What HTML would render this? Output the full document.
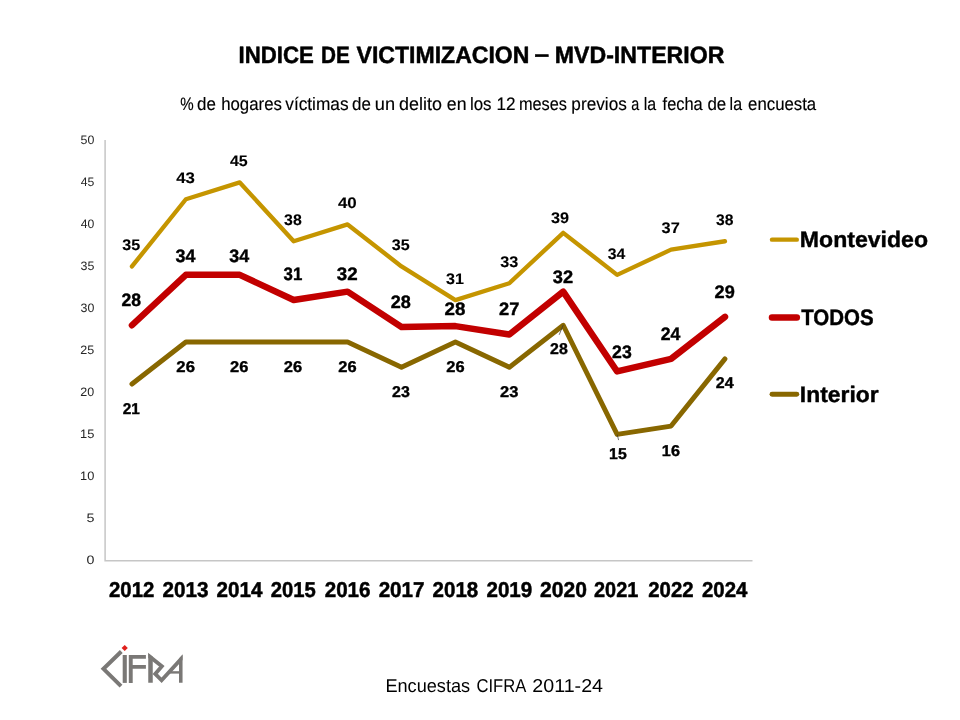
<!DOCTYPE html>
<html lang="es"><head><meta charset="utf-8"><title>INDICE DE VICTIMIZACION – MVD-INTERIOR</title>
<style>
html,body{margin:0;padding:0;background:#fff;}
body{width:960px;height:720px;overflow:hidden;}
svg{display:block;}
text{font-family:"Liberation Sans",sans-serif;text-rendering:geometricPrecision;}
.b{font-weight:bold;}
</style></head><body>
<svg width="960" height="720" viewBox="0 0 960 720">
<rect width="960" height="720" fill="#fff"/>
<path d="M105.1 140 V560.7 H752.5" fill="none" stroke="#C6C6C6" stroke-width="1.5"/>
<polyline points="131.95,384.05 185.87,342.05 239.77,342.05 293.69,342.05 347.59,342.05 401.50,367.25 455.41,342.05 509.32,367.25 563.23,325.25 617.14,434.45 671.05,426.05 724.96,358.85" fill="none" stroke="#886700" stroke-width="4.9" stroke-linecap="round" stroke-linejoin="round"/>
<polyline points="131.95,266.45 185.87,199.25 239.77,182.45 293.69,241.25 347.59,224.45 401.50,266.45 455.41,300.05 509.32,283.25 563.23,232.85 617.14,274.85 671.05,249.65 724.96,241.25" fill="none" stroke="#C59500" stroke-width="4.35" stroke-linecap="round" stroke-linejoin="round"/>
<polyline points="131.95,325.25 185.87,274.85 239.77,274.85 293.69,300.05 347.59,291.65 401.50,326.93 455.41,326.09 509.32,334.49 563.23,291.65 617.14,371.45 671.05,358.85 724.96,316.85" fill="none" stroke="#C20000" stroke-width="6.5" stroke-linecap="round" stroke-linejoin="round"/>
<path d="M563.3 324.8 L559.2 334.8 M617.2 434.6 L618.6 440.1" stroke="#333" stroke-width="0.7" fill="none"/>
<path d="M772 239.65 H796.8" stroke="#C59500" stroke-width="4.4" stroke-linecap="round"/>
<path d="M772 317.4 H796.8" stroke="#C20000" stroke-width="6.5" stroke-linecap="round"/>
<path d="M772 394.3 H796.8" stroke="#886700" stroke-width="4.9" stroke-linecap="round"/>
<text x="238.50" y="63.10" font-size="23.80" textLength="75.22" lengthAdjust="spacingAndGlyphs" class="b" stroke="#000" stroke-width="0.50" stroke-linejoin="round">INDICE</text>
<text x="320.95" y="63.10" font-size="23.80" textLength="28.81" lengthAdjust="spacingAndGlyphs" class="b" stroke="#000" stroke-width="0.50" stroke-linejoin="round">DE</text>
<text x="356.58" y="63.10" font-size="23.80" textLength="172.82" lengthAdjust="spacingAndGlyphs" class="b" stroke="#000" stroke-width="0.50" stroke-linejoin="round">VICTIMIZACION</text>
<text x="534.46" y="61.90" font-size="23.80" textLength="14.61" lengthAdjust="spacingAndGlyphs" class="b" stroke="#000" stroke-width="0.50" stroke-linejoin="round">–</text>
<text x="554.79" y="63.10" font-size="23.80" textLength="169.60" lengthAdjust="spacingAndGlyphs" class="b" stroke="#000" stroke-width="0.50" stroke-linejoin="round">MVD-INTERIOR</text>
<text x="180.15" y="109.80" font-size="18.00" textLength="13.43" lengthAdjust="spacingAndGlyphs" stroke="#000" stroke-width="0.15" stroke-linejoin="round">%</text>
<text x="197.11" y="109.80" font-size="18.00" textLength="18.83" lengthAdjust="spacingAndGlyphs" stroke="#000" stroke-width="0.15" stroke-linejoin="round">de</text>
<text x="221.15" y="109.80" font-size="18.00" textLength="60.75" lengthAdjust="spacingAndGlyphs" stroke="#000" stroke-width="0.15" stroke-linejoin="round">hogares</text>
<text x="285.24" y="109.80" font-size="18.00" textLength="63.38" lengthAdjust="spacingAndGlyphs" stroke="#000" stroke-width="0.15" stroke-linejoin="round">víctimas</text>
<text x="352.11" y="109.80" font-size="18.00" textLength="18.83" lengthAdjust="spacingAndGlyphs" stroke="#000" stroke-width="0.15" stroke-linejoin="round">de</text>
<text x="374.89" y="109.80" font-size="18.00" textLength="20.26" lengthAdjust="spacingAndGlyphs" stroke="#000" stroke-width="0.15" stroke-linejoin="round">un</text>
<text x="399.06" y="109.80" font-size="18.00" textLength="42.84" lengthAdjust="spacingAndGlyphs" stroke="#000" stroke-width="0.15" stroke-linejoin="round">delito</text>
<text x="446.82" y="109.80" font-size="18.00" textLength="19.69" lengthAdjust="spacingAndGlyphs" stroke="#000" stroke-width="0.15" stroke-linejoin="round">en</text>
<text x="469.93" y="109.80" font-size="18.00" textLength="21.60" lengthAdjust="spacingAndGlyphs" stroke="#000" stroke-width="0.15" stroke-linejoin="round">los</text>
<text x="496.54" y="109.80" font-size="18.00" textLength="19.03" lengthAdjust="spacingAndGlyphs" stroke="#000" stroke-width="0.15" stroke-linejoin="round">12</text>
<text x="518.97" y="109.80" font-size="18.00" textLength="48.03" lengthAdjust="spacingAndGlyphs" stroke="#000" stroke-width="0.15" stroke-linejoin="round">meses</text>
<text x="571.36" y="109.80" font-size="18.00" textLength="55.44" lengthAdjust="spacingAndGlyphs" stroke="#000" stroke-width="0.15" stroke-linejoin="round">previos</text>
<text x="631.37" y="109.80" font-size="18.00" textLength="7.98" lengthAdjust="spacingAndGlyphs" stroke="#000" stroke-width="0.15" stroke-linejoin="round">a</text>
<text x="643.75" y="109.80" font-size="18.00" textLength="12.44" lengthAdjust="spacingAndGlyphs" stroke="#000" stroke-width="0.15" stroke-linejoin="round">la</text>
<text x="662.58" y="109.80" font-size="18.00" textLength="40.12" lengthAdjust="spacingAndGlyphs" stroke="#000" stroke-width="0.15" stroke-linejoin="round">fecha</text>
<text x="707.46" y="109.80" font-size="18.00" textLength="18.83" lengthAdjust="spacingAndGlyphs" stroke="#000" stroke-width="0.15" stroke-linejoin="round">de</text>
<text x="729.60" y="109.80" font-size="18.00" textLength="12.44" lengthAdjust="spacingAndGlyphs" stroke="#000" stroke-width="0.15" stroke-linejoin="round">la</text>
<text x="748.11" y="109.80" font-size="18.00" textLength="68.08" lengthAdjust="spacingAndGlyphs" stroke="#000" stroke-width="0.15" stroke-linejoin="round">encuesta</text>
<text x="86.43" y="564.25" font-size="12.20" textLength="7.92" lengthAdjust="spacingAndGlyphs" fill="#262626">0</text>
<text x="86.43" y="522.25" font-size="12.20" textLength="7.96" lengthAdjust="spacingAndGlyphs" fill="#262626">5</text>
<text x="80.04" y="480.25" font-size="12.20" textLength="14.27" lengthAdjust="spacingAndGlyphs" fill="#262626">10</text>
<text x="80.04" y="438.25" font-size="12.20" textLength="14.31" lengthAdjust="spacingAndGlyphs" fill="#262626">15</text>
<text x="80.37" y="396.25" font-size="12.20" textLength="13.92" lengthAdjust="spacingAndGlyphs" fill="#262626">20</text>
<text x="80.37" y="354.25" font-size="12.20" textLength="13.96" lengthAdjust="spacingAndGlyphs" fill="#262626">25</text>
<text x="80.54" y="312.25" font-size="12.20" textLength="13.76" lengthAdjust="spacingAndGlyphs" fill="#262626">30</text>
<text x="80.54" y="270.25" font-size="12.20" textLength="13.79" lengthAdjust="spacingAndGlyphs" fill="#262626">35</text>
<text x="80.73" y="228.25" font-size="12.20" textLength="13.56" lengthAdjust="spacingAndGlyphs" fill="#262626">40</text>
<text x="80.73" y="186.25" font-size="12.20" textLength="13.59" lengthAdjust="spacingAndGlyphs" fill="#262626">45</text>
<text x="80.50" y="144.25" font-size="12.20" textLength="13.79" lengthAdjust="spacingAndGlyphs" fill="#262626">50</text>
<text x="109.04" y="597.40" font-size="21.50" textLength="45.32" lengthAdjust="spacingAndGlyphs" class="b" stroke="#000" stroke-width="0.50" stroke-linejoin="round">2012</text>
<text x="162.53" y="597.40" font-size="21.50" textLength="45.99" lengthAdjust="spacingAndGlyphs" class="b" stroke="#000" stroke-width="0.50" stroke-linejoin="round">2013</text>
<text x="216.53" y="597.40" font-size="21.50" textLength="45.87" lengthAdjust="spacingAndGlyphs" class="b" stroke="#000" stroke-width="0.50" stroke-linejoin="round">2014</text>
<text x="270.79" y="597.40" font-size="21.50" textLength="45.06" lengthAdjust="spacingAndGlyphs" class="b" stroke="#000" stroke-width="0.50" stroke-linejoin="round">2015</text>
<text x="324.72" y="597.40" font-size="21.50" textLength="45.79" lengthAdjust="spacingAndGlyphs" class="b" stroke="#000" stroke-width="0.50" stroke-linejoin="round">2016</text>
<text x="378.63" y="597.40" font-size="21.50" textLength="45.95" lengthAdjust="spacingAndGlyphs" class="b" stroke="#000" stroke-width="0.50" stroke-linejoin="round">2017</text>
<text x="432.55" y="597.40" font-size="21.50" textLength="45.68" lengthAdjust="spacingAndGlyphs" class="b" stroke="#000" stroke-width="0.50" stroke-linejoin="round">2018</text>
<text x="486.45" y="597.40" font-size="21.50" textLength="45.79" lengthAdjust="spacingAndGlyphs" class="b" stroke="#000" stroke-width="0.50" stroke-linejoin="round">2019</text>
<text x="540.01" y="597.40" font-size="21.50" textLength="46.88" lengthAdjust="spacingAndGlyphs" class="b" stroke="#000" stroke-width="0.50" stroke-linejoin="round">2020</text>
<text x="594.05" y="597.40" font-size="21.50" textLength="44.29" lengthAdjust="spacingAndGlyphs" class="b" stroke="#000" stroke-width="0.50" stroke-linejoin="round">2021</text>
<text x="648.29" y="597.40" font-size="21.50" textLength="45.32" lengthAdjust="spacingAndGlyphs" class="b" stroke="#000" stroke-width="0.50" stroke-linejoin="round">2022</text>
<text x="702.04" y="597.40" font-size="21.50" textLength="45.36" lengthAdjust="spacingAndGlyphs" class="b" stroke="#000" stroke-width="0.50" stroke-linejoin="round">2024</text>
<text x="122.34" y="250.00" font-size="15.30" textLength="17.94" lengthAdjust="spacingAndGlyphs" class="b" stroke="#000" stroke-width="0.10" stroke-linejoin="round">35</text>
<text x="176.20" y="183.00" font-size="15.30" textLength="18.73" lengthAdjust="spacingAndGlyphs" class="b" stroke="#000" stroke-width="0.10" stroke-linejoin="round">43</text>
<text x="229.96" y="166.00" font-size="15.30" textLength="17.82" lengthAdjust="spacingAndGlyphs" class="b" stroke="#000" stroke-width="0.10" stroke-linejoin="round">45</text>
<text x="284.09" y="225.00" font-size="15.30" textLength="17.72" lengthAdjust="spacingAndGlyphs" class="b" stroke="#000" stroke-width="0.10" stroke-linejoin="round">38</text>
<text x="337.95" y="208.00" font-size="15.30" textLength="18.82" lengthAdjust="spacingAndGlyphs" class="b" stroke="#000" stroke-width="0.10" stroke-linejoin="round">40</text>
<text x="391.84" y="250.00" font-size="15.30" textLength="17.94" lengthAdjust="spacingAndGlyphs" class="b" stroke="#000" stroke-width="0.10" stroke-linejoin="round">35</text>
<text x="446.09" y="283.75" font-size="15.30" textLength="17.94" lengthAdjust="spacingAndGlyphs" class="b" stroke="#000" stroke-width="0.10" stroke-linejoin="round">31</text>
<text x="500.33" y="266.75" font-size="15.30" textLength="18.07" lengthAdjust="spacingAndGlyphs" class="b" stroke="#000" stroke-width="0.10" stroke-linejoin="round">33</text>
<text x="551.08" y="222.50" font-size="15.30" textLength="18.07" lengthAdjust="spacingAndGlyphs" class="b" stroke="#000" stroke-width="0.10" stroke-linejoin="round">39</text>
<text x="607.84" y="258.50" font-size="15.30" textLength="17.57" lengthAdjust="spacingAndGlyphs" class="b" stroke="#000" stroke-width="0.10" stroke-linejoin="round">34</text>
<text x="661.58" y="233.25" font-size="15.30" textLength="18.20" lengthAdjust="spacingAndGlyphs" class="b" stroke="#000" stroke-width="0.10" stroke-linejoin="round">37</text>
<text x="716.10" y="224.50" font-size="15.30" textLength="17.46" lengthAdjust="spacingAndGlyphs" class="b" stroke="#000" stroke-width="0.10" stroke-linejoin="round">38</text>
<text x="121.59" y="305.75" font-size="18.00" textLength="19.53" lengthAdjust="spacingAndGlyphs" class="b" stroke="#000" stroke-width="0.40" stroke-linejoin="round">28</text>
<text x="175.55" y="261.75" font-size="18.00" textLength="19.88" lengthAdjust="spacingAndGlyphs" class="b" stroke="#000" stroke-width="0.40" stroke-linejoin="round">34</text>
<text x="229.30" y="261.75" font-size="18.00" textLength="19.88" lengthAdjust="spacingAndGlyphs" class="b" stroke="#000" stroke-width="0.40" stroke-linejoin="round">34</text>
<text x="283.57" y="280.00" font-size="18.00" textLength="18.73" lengthAdjust="spacingAndGlyphs" class="b" stroke="#000" stroke-width="0.40" stroke-linejoin="round">31</text>
<text x="336.78" y="279.50" font-size="18.00" textLength="20.81" lengthAdjust="spacingAndGlyphs" class="b" stroke="#000" stroke-width="0.40" stroke-linejoin="round">32</text>
<text x="390.82" y="307.50" font-size="18.00" textLength="20.06" lengthAdjust="spacingAndGlyphs" class="b" stroke="#000" stroke-width="0.40" stroke-linejoin="round">28</text>
<text x="444.54" y="314.50" font-size="18.00" textLength="20.86" lengthAdjust="spacingAndGlyphs" class="b" stroke="#000" stroke-width="0.40" stroke-linejoin="round">28</text>
<text x="499.06" y="314.50" font-size="18.00" textLength="20.31" lengthAdjust="spacingAndGlyphs" class="b" stroke="#000" stroke-width="0.40" stroke-linejoin="round">27</text>
<text x="552.79" y="283.25" font-size="18.00" textLength="20.28" lengthAdjust="spacingAndGlyphs" class="b" stroke="#000" stroke-width="0.40" stroke-linejoin="round">32</text>
<text x="612.08" y="358.00" font-size="18.00" textLength="19.63" lengthAdjust="spacingAndGlyphs" class="b" stroke="#000" stroke-width="0.40" stroke-linejoin="round">23</text>
<text x="660.83" y="339.50" font-size="18.00" textLength="19.60" lengthAdjust="spacingAndGlyphs" class="b" stroke="#000" stroke-width="0.40" stroke-linejoin="round">24</text>
<text x="714.57" y="297.50" font-size="18.00" textLength="20.16" lengthAdjust="spacingAndGlyphs" class="b" stroke="#000" stroke-width="0.40" stroke-linejoin="round">29</text>
<text x="122.66" y="413.55" font-size="15.60" textLength="17.10" lengthAdjust="spacingAndGlyphs" class="b" stroke="#000" stroke-width="0.40" stroke-linejoin="round">21</text>
<text x="176.37" y="371.80" font-size="15.60" textLength="18.56" lengthAdjust="spacingAndGlyphs" class="b" stroke="#000" stroke-width="0.40" stroke-linejoin="round">26</text>
<text x="230.12" y="371.80" font-size="15.60" textLength="18.29" lengthAdjust="spacingAndGlyphs" class="b" stroke="#000" stroke-width="0.40" stroke-linejoin="round">26</text>
<text x="283.87" y="371.80" font-size="15.60" textLength="18.29" lengthAdjust="spacingAndGlyphs" class="b" stroke="#000" stroke-width="0.40" stroke-linejoin="round">26</text>
<text x="338.37" y="371.80" font-size="15.60" textLength="18.29" lengthAdjust="spacingAndGlyphs" class="b" stroke="#000" stroke-width="0.40" stroke-linejoin="round">26</text>
<text x="392.14" y="396.55" font-size="15.60" textLength="17.75" lengthAdjust="spacingAndGlyphs" class="b" stroke="#000" stroke-width="0.40" stroke-linejoin="round">23</text>
<text x="446.37" y="371.80" font-size="15.60" textLength="18.29" lengthAdjust="spacingAndGlyphs" class="b" stroke="#000" stroke-width="0.40" stroke-linejoin="round">26</text>
<text x="500.12" y="396.55" font-size="15.60" textLength="18.29" lengthAdjust="spacingAndGlyphs" class="b" stroke="#000" stroke-width="0.40" stroke-linejoin="round">23</text>
<text x="550.14" y="354.05" font-size="15.60" textLength="17.67" lengthAdjust="spacingAndGlyphs" class="b" stroke="#000" stroke-width="0.40" stroke-linejoin="round">28</text>
<text x="609.11" y="458.90" font-size="15.60" textLength="17.56" lengthAdjust="spacingAndGlyphs" class="b" stroke="#000" stroke-width="0.40" stroke-linejoin="round">15</text>
<text x="661.89" y="455.50" font-size="15.60" textLength="18.02" lengthAdjust="spacingAndGlyphs" class="b" stroke="#000" stroke-width="0.40" stroke-linejoin="round">16</text>
<text x="715.89" y="387.80" font-size="15.60" textLength="17.78" lengthAdjust="spacingAndGlyphs" class="b" stroke="#000" stroke-width="0.40" stroke-linejoin="round">24</text>
<text x="799.84" y="247.30" font-size="22.40" textLength="128.24" lengthAdjust="spacingAndGlyphs" class="b" stroke="#000" stroke-width="0.40" stroke-linejoin="round">Montevideo</text>
<text x="801.20" y="324.50" font-size="22.40" textLength="72.43" lengthAdjust="spacingAndGlyphs" class="b" stroke="#000" stroke-width="0.40" stroke-linejoin="round">TODOS</text>
<text x="799.86" y="401.90" font-size="22.40" textLength="78.79" lengthAdjust="spacingAndGlyphs" class="b" stroke="#000" stroke-width="0.40" stroke-linejoin="round">Interior</text>
<text x="385.40" y="692.10" font-size="18.60" textLength="84.72" lengthAdjust="spacingAndGlyphs">Encuestas</text>
<text x="476.47" y="692.10" font-size="18.60" textLength="49.82" lengthAdjust="spacingAndGlyphs">CIFRA</text>
<text x="532.32" y="692.10" font-size="18.60" textLength="70.74" lengthAdjust="spacingAndGlyphs">2011-24</text>
<g id="logo" fill="#7A7876" stroke="none">
<title>CIFRA</title>
<clipPath id="lc"><rect x="148.25" y="640" width="34.3" height="50"/></clipPath>
<polyline points="121.3,651.5 103.5,668.8 121,686.2" fill="none" stroke="#7A7876" stroke-width="4" stroke-linejoin="miter"/>
<rect x="122.7" y="655" width="4.1" height="27.9"/>
<path d="M128.8 682.9 V655 H145.9 V658.75 H132.7 V665 H145.9 V668.75 H132.7 V682.9 Z"/>
<path d="M148.25 653.25 L152.75 656.8 V682.8 H148.25 Z"/>
<polyline points="144.58,652.56 161.85,666.2 155.2,673.9 161.6,680.3 192.0,647.1" fill="none" stroke="#7A7876" stroke-width="3.8" stroke-linejoin="miter" stroke-miterlimit="10" clip-path="url(#lc)"/>
<path d="M179 658.6 L182.55 654.7 V682.8 H179 Z"/>
<rect x="170" y="671.2" width="9.5" height="2.4"/>
<path d="M124.7 644.9 L127.8 648 L124.7 651.1 L121.6 648 Z" fill="#E0201C"/>
</g>
</svg></body></html>
